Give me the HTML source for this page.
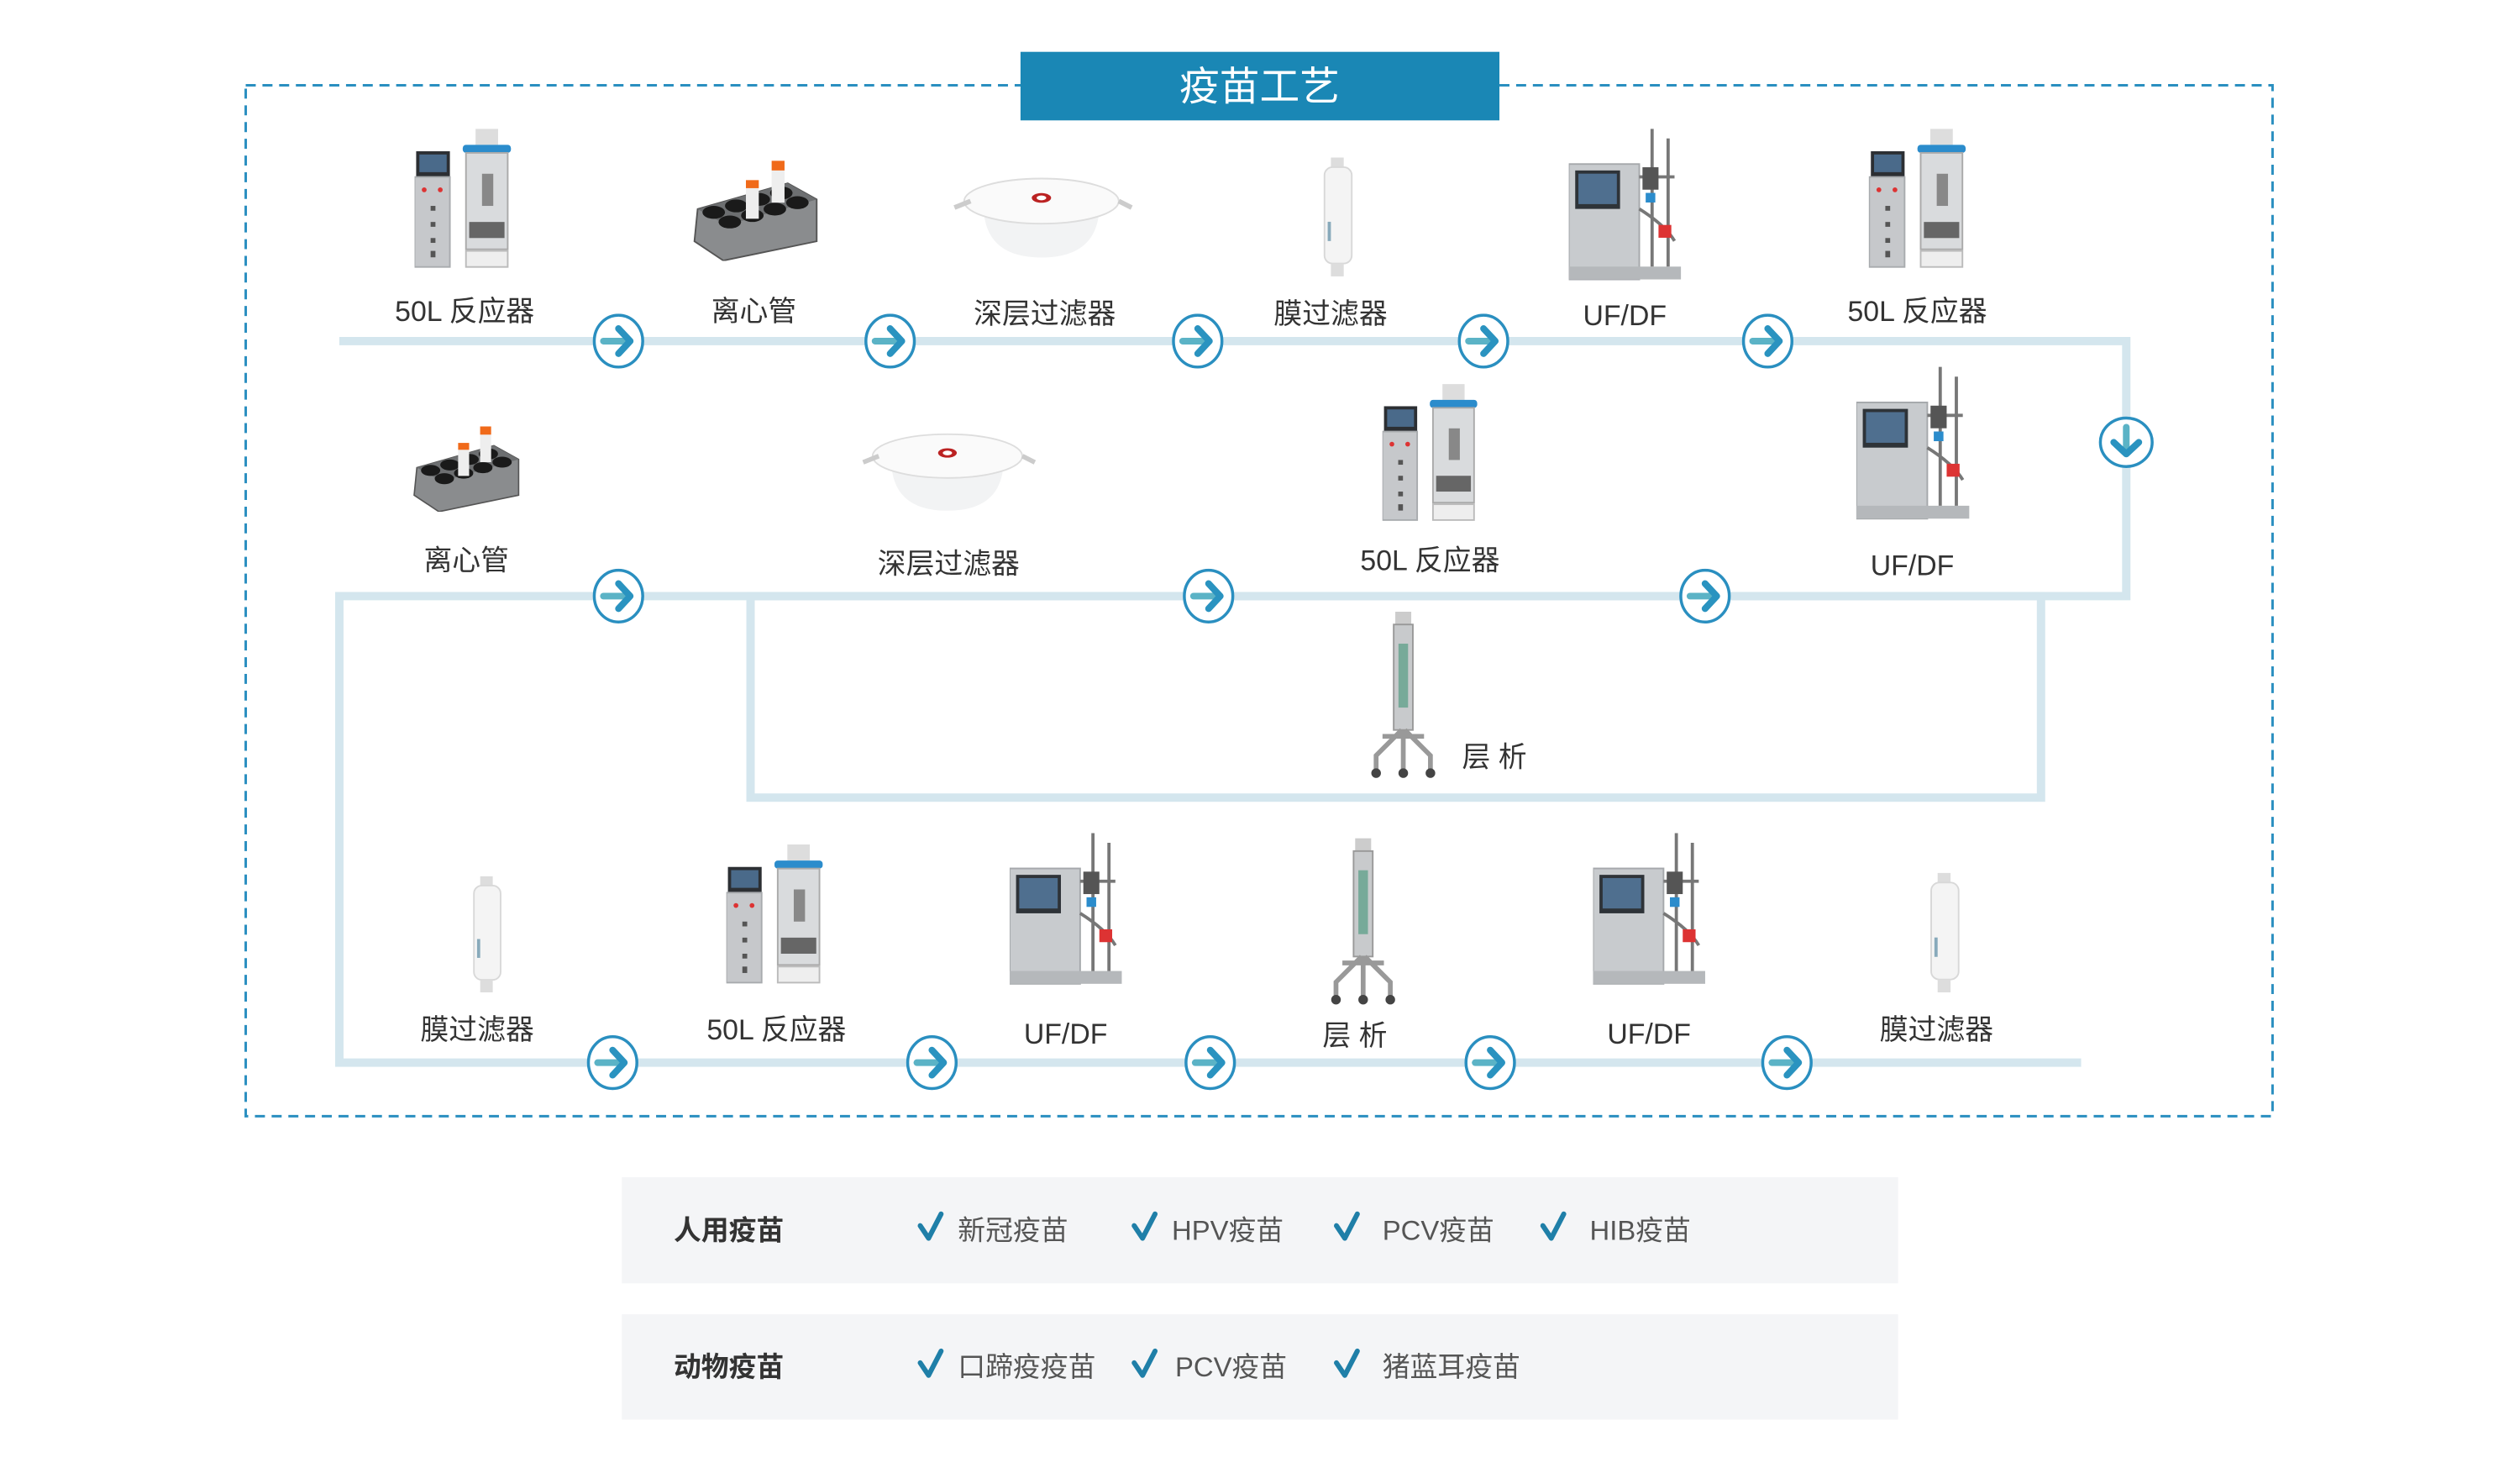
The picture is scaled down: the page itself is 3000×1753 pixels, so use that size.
<!DOCTYPE html>
<html><head><meta charset="utf-8"><style>
html,body{margin:0;padding:0;background:#fff;}
svg{display:block;}
text{font-family:"Liberation Sans","Noto Sans CJK SC",sans-serif;fill:#333;}
</style></head><body>
<svg width="3000" height="1753" viewBox="0 0 3000 1753" xmlns="http://www.w3.org/2000/svg">
<defs>
<symbol id="arr" viewBox="-32 -33 64 66">
<ellipse cx="0" cy="0" rx="29" ry="31" fill="#fff" stroke="#2a8fc0" stroke-width="3.5"/>
<path d="M-18 0 H12" stroke="#5bb3c6" stroke-width="8" stroke-linecap="round"/>
<path d="M0 -15 L14 0 L0 15" fill="none" stroke="#2a93c0" stroke-width="8" stroke-linecap="round" stroke-linejoin="round"/>
</symbol>
<symbol id="reactor" viewBox="0 0 64 90">
<rect x="1" y="14" width="21" height="16" fill="#2c2f33"/><rect x="3" y="16" width="17" height="11" fill="#4a6a8a"/>
<rect x="0" y="30" width="22" height="56" fill="#c6c8cb" stroke="#a8abae"/>
<circle cx="6" cy="38" r="1.5" fill="#d33"/><circle cx="16" cy="38" r="1.5" fill="#d33"/>
<rect x="10" y="48" width="3" height="3" fill="#555"/><rect x="10" y="58" width="3" height="3" fill="#555"/><rect x="10" y="68" width="3" height="3" fill="#555"/><rect x="10" y="76" width="3" height="4" fill="#555"/>
<rect x="38" y="0" width="14" height="10" fill="#ddd"/>
<rect x="30" y="10" width="30" height="5" rx="2" fill="#2b8ccc"/>
<rect x="32" y="15" width="26" height="60" fill="#d9dbdd" stroke="#aaa"/>
<rect x="42" y="28" width="7" height="20" fill="#888"/>
<rect x="34" y="58" width="22" height="10" fill="#666"/>
<rect x="32" y="76" width="26" height="10" fill="#eee" stroke="#bbb"/>
</symbol>
<symbol id="rack" viewBox="0 0 80 62">
<polygon points="4,30 60,14 78,24 78,50 20,62 2,50" fill="#8a8c8e" stroke="#555"/>
<polygon points="4,30 60,14 78,24 22,40" fill="#6d6f71"/>
<g fill="#1a1a1a"><ellipse cx="14" cy="32" rx="7" ry="4"/><ellipse cx="28" cy="28" rx="7" ry="4"/><ellipse cx="42" cy="24" rx="7" ry="4"/><ellipse cx="56" cy="20" rx="7" ry="4"/><ellipse cx="24" cy="38" rx="7" ry="4"/><ellipse cx="38" cy="34" rx="7" ry="4"/><ellipse cx="52" cy="30" rx="7" ry="4"/><ellipse cx="66" cy="26" rx="7" ry="4"/></g>
<rect x="34" y="16" width="8" height="20" fill="#eee"/><rect x="34" y="12" width="8" height="5" fill="#f06a1a"/>
<rect x="50" y="6" width="8" height="20" fill="#eee"/><rect x="50" y="0" width="8" height="6" fill="#f06a1a"/>
</symbol>
<symbol id="depth" viewBox="0 0 113 55">
<path d="M20 22 Q20 55 56 55 Q92 55 92 22 Z" fill="#f2f3f4"/>
<ellipse cx="56" cy="20" rx="48" ry="14" fill="#fafafa" stroke="#ddd"/>
<ellipse cx="56" cy="18" rx="6" ry="3" fill="#b22"/><ellipse cx="56" cy="18" rx="3" ry="1.5" fill="#fff"/>
<path d="M2 24 L12 20 M104 20 L112 24" stroke="#ccc" stroke-width="3"/>
</symbol>
<symbol id="memb" viewBox="0 0 25 74">
<rect x="8" y="0" width="8" height="6" fill="#ddd"/>
<rect x="4" y="6" width="17" height="60" rx="5" fill="#f4f4f4" stroke="#d8d8d8"/>
<rect x="8" y="66" width="8" height="8" fill="#ddd"/>
<rect x="6" y="40" width="2" height="12" fill="#8ab"/>
</symbol>
<symbol id="ufdf" viewBox="0 0 72 97">
<rect x="0" y="22" width="44" height="72" fill="#c8cbce" stroke="#a5a8ab"/>
<rect x="4" y="26" width="28" height="24" fill="#2e3338"/><rect x="6" y="28" width="24" height="19" fill="#4f6f8f"/>
<rect x="0" y="86" width="70" height="8" fill="#b5b8bb"/>
<g stroke="#777" stroke-width="2" fill="none"><path d="M52 0 V86 M62 6 V86 M44 30 H66 M44 50 Q60 60 66 70"/></g>
<rect x="46" y="24" width="10" height="14" fill="#555"/><rect x="48" y="40" width="6" height="6" fill="#2b8ccc"/><rect x="56" y="60" width="8" height="8" fill="#d33"/>
</symbol>
<symbol id="chrom" viewBox="0 0 45 105">
<rect x="18" y="0" width="10" height="8" fill="#ccc"/>
<rect x="17" y="8" width="12" height="66" fill="#c8cacc" stroke="#999"/>
<rect x="20" y="20" width="6" height="40" fill="#7a9"/>
<g stroke="#999" stroke-width="3" fill="none"><path d="M22 74 L6 90 V100 M23 74 V100 M24 74 L40 90 V100 M10 78 H36"/></g>
<g fill="#444"><circle cx="6" cy="101" r="3"/><circle cx="23" cy="101" r="3"/><circle cx="40" cy="101" r="3"/></g>
</symbol>
</defs>
<g transform="scale(0.995)">
<rect x="294" y="102" width="2425" height="1233" fill="none" stroke="#2a8fc0" stroke-width="3" stroke-dasharray="12 8"/>
<rect x="1221" y="62" width="573" height="82" fill="#1a87b5"/>
<text x="1507" y="120" font-size="48" text-anchor="middle" style="fill:#fff">疫苗工艺</text>

<g stroke="#d4e6ee" stroke-width="10" fill="none">
<path d="M406 408 H2544 V713 H406 V1271 H2490"/>
<rect x="898" y="713" width="1544" height="241"/>
</g>

<use href="#reactor" x="496" y="154" width="123" height="173"/>
<use href="#rack" x="827" y="192" width="154" height="120"/>
<use href="#depth" x="1138" y="202" width="218" height="106"/>
<use href="#memb" x="1577" y="188" width="48" height="143"/>
<use href="#ufdf" x="1877" y="154" width="138" height="186"/>
<use href="#reactor" x="2236" y="154" width="124" height="173"/>

<use href="#rack" x="485" y="510" width="146" height="102"/>
<use href="#depth" x="1029" y="504" width="211" height="111"/>
<use href="#reactor" x="1654" y="458" width="121" height="173"/>
<use href="#ufdf" x="2221" y="438" width="139" height="189"/>
<use href="#chrom" x="1635" y="731" width="86" height="202"/>

<use href="#memb" x="554" y="1048" width="58" height="139"/>
<use href="#reactor" x="869" y="1010" width="123" height="173"/>
<use href="#ufdf" x="1208" y="996" width="138" height="187"/>
<use href="#chrom" x="1587" y="1000" width="86" height="206"/>
<use href="#ufdf" x="1906" y="996" width="138" height="187"/>
<use href="#memb" x="2300" y="1044" width="54" height="143"/>

<g>
<use href="#arr" x="708" y="375" width="64" height="66"/>
<use href="#arr" x="1033" y="375" width="64" height="66"/>
<use href="#arr" x="1401" y="375" width="64" height="66"/>
<use href="#arr" x="1743" y="375" width="64" height="66"/>
<use href="#arr" x="2083" y="375" width="64" height="66"/>
<use href="#arr" x="708" y="680" width="64" height="66"/>
<use href="#arr" x="1414" y="680" width="64" height="66"/>
<use href="#arr" x="2008" y="680" width="64" height="66"/>
<use href="#arr" x="701" y="1238" width="64" height="66"/>
<use href="#arr" x="1083" y="1238" width="64" height="66"/>
<use href="#arr" x="1416" y="1238" width="64" height="66"/>
<use href="#arr" x="1751" y="1238" width="64" height="66"/>
<use href="#arr" x="2106" y="1238" width="64" height="66"/>
<g transform="translate(2544 529) rotate(90)"><use href="#arr" x="-32" y="-33" width="64" height="66"/></g>
</g>

<g font-size="34" text-anchor="middle">
<text x="556" y="384">50L 反应器</text>
<text x="902" y="384">离心管</text>
<text x="1250" y="387">深层过滤器</text>
<text x="1592" y="387">膜过滤器</text>
<text x="1944" y="389">UF/DF</text>
<text x="2294" y="384">50L 反应器</text>
<text x="558" y="682">离心管</text>
<text x="1135" y="686">深层过滤器</text>
<text x="1711" y="682">50L 反应器</text>
<text x="2288" y="688">UF/DF</text>
<text x="1788" y="917">层 析</text>
<text x="571" y="1243">膜过滤器</text>
<text x="929" y="1243">50L 反应器</text>
<text x="1275" y="1248">UF/DF</text>
<text x="1621" y="1250">层 析</text>
<text x="1973" y="1248">UF/DF</text>
<text x="2317" y="1243">膜过滤器</text>
</g>

<rect x="744" y="1408" width="1527" height="127" fill="#f4f5f7"/>
<rect x="744" y="1572" width="1527" height="126" fill="#f4f5f7"/>
<g font-size="33">
<text x="806" y="1483" font-weight="bold">人用疫苗</text>
<text x="806" y="1646" font-weight="bold">动物疫苗</text>
<text x="1146" y="1483" style="fill:#555">新冠疫苗</text>
<text x="1402" y="1483" style="fill:#555">HPV疫苗</text>
<text x="1654" y="1483" style="fill:#555">PCV疫苗</text>
<text x="1902" y="1483" style="fill:#555">HIB疫苗</text>
<text x="1146" y="1646" style="fill:#555">口蹄疫疫苗</text>
<text x="1406" y="1646" style="fill:#555">PCV疫苗</text>
<text x="1654" y="1646" style="fill:#555">猪蓝耳疫苗</text>
</g>
<g fill="none" stroke="#1f7fa8" stroke-width="6" stroke-linecap="round" stroke-linejoin="round">
<path d="M1101 1466 L1111 1481 L1126 1452"/><path d="M1357 1466 L1367 1481 L1382 1452"/><path d="M1599 1466 L1609 1481 L1624 1452"/><path d="M1846 1466 L1856 1481 L1871 1452"/>
<path d="M1101 1630 L1111 1645 L1126 1616"/><path d="M1357 1630 L1367 1645 L1382 1616"/><path d="M1599 1630 L1609 1645 L1624 1616"/>
</g>
</g>
</svg>
</body></html>
